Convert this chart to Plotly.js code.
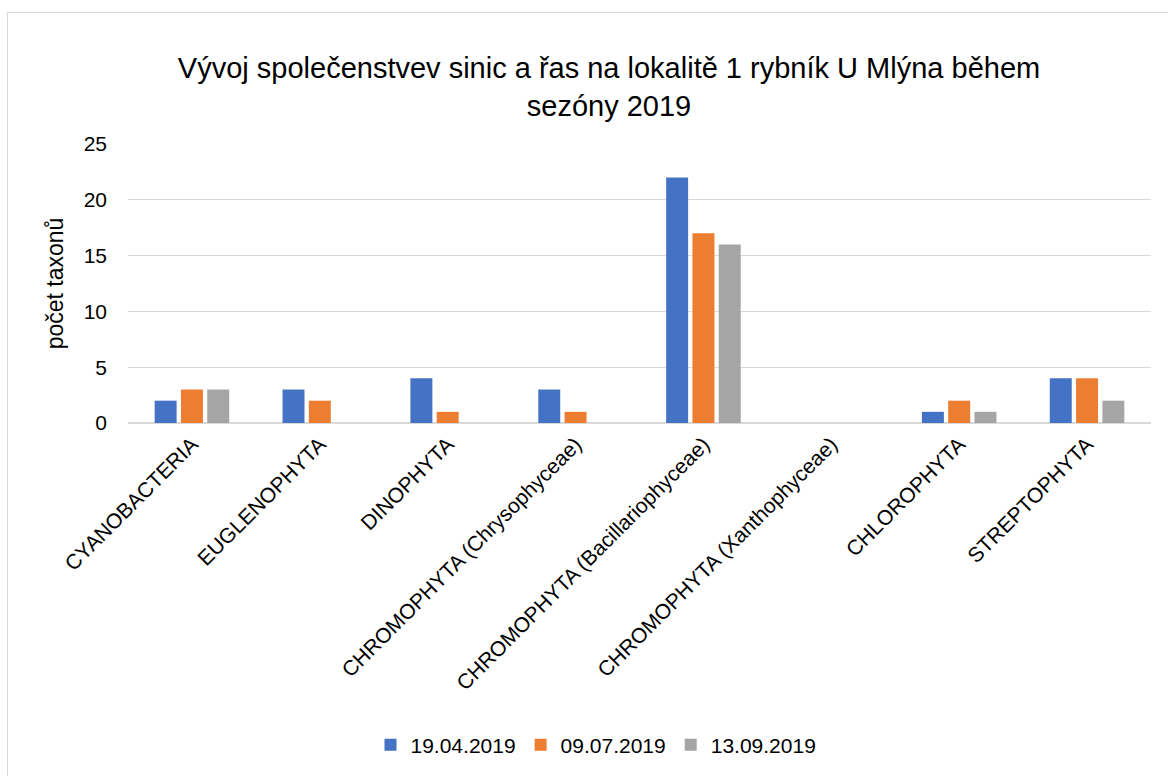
<!DOCTYPE html>
<html>
<head>
<meta charset="utf-8">
<script src="https://cdn.plot.ly/plotly-3.0.1.min.js"></script>
<style>
  html, body { margin: 0; padding: 0; background: #fff; overflow: hidden; }
  #chart { width: 1168px; height: 776px; position: absolute; left: 0; top: 0; }
  #frame { position: absolute; left: 7px; top: 12px; width: 2000px; height: 2000px;
           border: 1.5px solid #d9d9d9; pointer-events: none; z-index: 5; }
</style>
</head>
<body>
<div id="chart"></div>
<div id="frame"></div>
<script>
const categories = [
  "CYANOBACTERIA",
  "EUGLENOPHYTA",
  "DINOPHYTA",
  "CHROMOPHYTA (Chrysophyceae)",
  "CHROMOPHYTA (Bacillariophyceae)",
  "CHROMOPHYTA (Xanthophyceae)",
  "CHLOROPHYTA",
  "STREPTOPHYTA"
];
const seriesNames = ["19.04.2019", "09.07.2019", "13.09.2019"];
const values_19_04 = [2, 3, 4, 3, 22, 0, 1, 4];
const values_09_07 = [3, 2, 1, 1, 17, 0, 2, 4];
const values_13_09 = [3, 0, 0, 0, 16, 0, 1, 2];
const seriesColors = ["#4472C4", "#ED7D31", "#A5A5A5"];
const yTicks = [0, 5, 10, 15, 20, 25];

const FONT = "Liberation Sans, Arial, sans-serif";
const allValues = [values_19_04, values_09_07, values_13_09];

const data = allValues.map((vals, i) => ({
  type: "bar",
  name: seriesNames[i],
  x: categories,
  y: vals,
  marker: { color: seriesColors[i] },
  hoverinfo: "x+y+name"
}));

const layout = {
  width: 1168,
  height: 776,
  margin: { l: 128, r: 17, t: 144, b: 353 },
  paper_bgcolor: "#ffffff",
  plot_bgcolor: "#ffffff",
  font: { family: FONT, color: "#000000" },
  barmode: "group",
  bargap: 0.383,
  bargroupgap: 0.165,
  title: {
    text: "Vývoj společenstvev sinic a řas na lokalitě 1 rybník U Mlýna během<br>sezóny 2019",
    font: { family: FONT, size: 29, color: "#000000" },
    x: 609 / 1168,
    xanchor: "center",
    xref: "container",
    y: 1 - 78 / 776,
    yanchor: "top",
    yref: "container"
  },
  xaxis: {
    type: "category",
    tickangle: -45,
    tickfont: { family: FONT, size: 21, color: "#000000" },
    showgrid: false,
    showline: false,
    zeroline: false,
    ticks: "",
    ticklabelstandoff: 4,
    automargin: false
  },
  yaxis: {
    range: [0, 25],
    tickvals: yTicks,
    ticktext: yTicks.map(String),
    tickfont: { family: FONT, size: 21, color: "#000000" },
    showgrid: true,
    gridcolor: "#d9d9d9",
    gridwidth: 1.3,
    zeroline: true,
    zerolinecolor: "#d9d9d9",
    zerolinewidth: 1.3,
    showline: false,
    ticks: "",
    ticklabelstandoff: 20,
    automargin: false,
    title: {
      text: "počet taxonů",
      font: { family: FONT, size: 23, color: "#000000" },
      standoff: 13
    }
  },
  showlegend: true,
  legend: {
    orientation: "h",
    xref: "container",
    yref: "container",
    x: 596 / 1168,
    xanchor: "center",
    y: 1 - 745 / 776,
    yanchor: "middle",
    font: { family: FONT, size: 21, color: "#000000" },
    bgcolor: "rgba(0,0,0,0)"
  }
};

Plotly.newPlot("chart", data, layout, { displayModeBar: false, staticPlot: true });
</script>
</body>
</html>
